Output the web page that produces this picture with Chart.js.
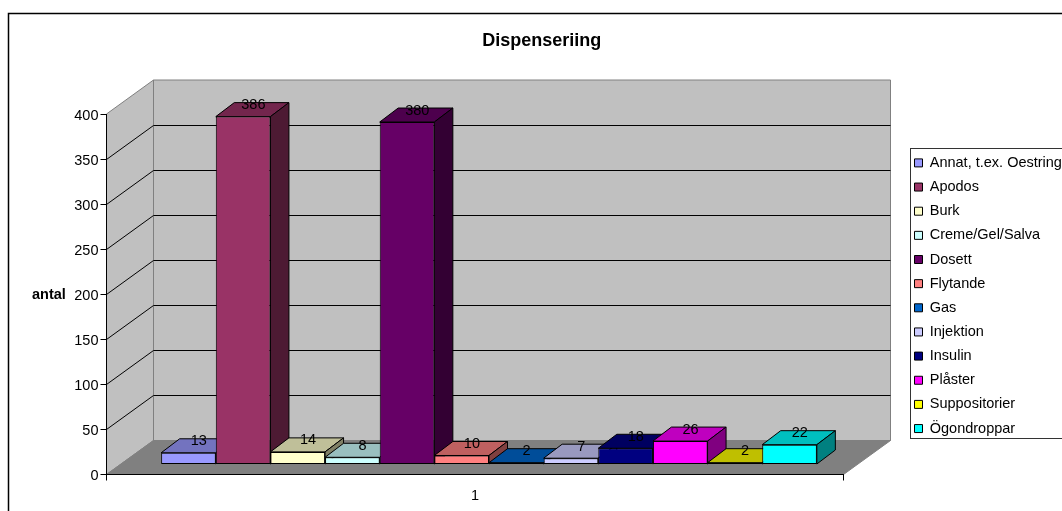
<!DOCTYPE html>
<html>
<head>
<meta charset="utf-8">
<title>Dispenseriing</title>
<style>
  html, body { margin: 0; padding: 0; background: #fff; overflow: hidden; }
  #wrap { width: 1062px; height: 511px; }
</style>
<script src="https://cdn.jsdelivr.net/npm/chart.js@4"></script>
</head>
<body>
<div id="wrap"><canvas id="dispChart"></canvas></div>
<script>
const categories = ['1'];
const seriesNames = ['Annat, t.ex. Oestring', 'Apodos', 'Burk', 'Creme/Gel/Salva', 'Dosett', 'Flytande',
    'Gas', 'Injektion', 'Insulin', 'Plåster', 'Suppositorier', 'Ögondroppar'];
const seriesValues = [13, 386, 14, 8, 380, 10, 2, 7, 18, 26, 2, 22];
const seriesColors = ['#9999ff', '#993366', '#ffffcc', '#ccffff', '#660066', '#ff8080',
    '#0066cc', '#ccccff', '#000080', '#ff00ff', '#ffff00', '#00ffff'];
const yTicks = [0, 50, 100, 150, 200, 250, 300, 350, 400];

const FONT = '"Liberation Sans", Arial, sans-serif';
const WALL = { dx: 47, dy: -34 };      // depth of the box behind the axes
const BAR_OFFSET = { dx: 14, dy: -10 }; // bars stand inside the floor
const BAR_DEPTH = { dx: 18.5, dy: -14 };

function shade(hex, f) {
    const n = parseInt(hex.slice(1), 16);
    const c = [n >> 16, (n >> 8) & 255, n & 255].map(v => Math.round(v * f));
    return `rgb(${c[0]},${c[1]},${c[2]})`;
}

function poly(ctx, pts, fill, stroke) {
    ctx.beginPath();
    pts.forEach((p, i) => i ? ctx.lineTo(p[0], p[1]) : ctx.moveTo(p[0], p[1]));
    ctx.closePath();
    if (fill) { ctx.fillStyle = fill; ctx.fill(); }
    if (stroke) { ctx.strokeStyle = stroke; ctx.lineWidth = 1; ctx.stroke(); }
}

// ── Frame, legend box, walls and floor ────────────────────────
const box3d = {
    id: 'box3d',
    afterLayout(chart) {
        // legend floats over the page, right of the plot
        const lg = chart.legend;
        lg.left = 904.85;
        lg.top = 146;
        lg.right = 1062;
        lg.bottom = 511;
        // title is centred across the whole frame, not just the plot
        chart.titleBlock.left = 21.4;
        chart.titleBlock.right = 1062;
    },
    beforeDraw(chart) {
        const ctx = chart.ctx;
        const { left, right, top, bottom } = chart.chartArea;
        const { dx, dy } = WALL;
        const y = chart.scales.y;

        ctx.save();
        ctx.fillStyle = '#fff';
        ctx.fillRect(0, 0, chart.width, chart.height);
        ctx.strokeStyle = '#000';
        ctx.lineWidth = 1.5;
        ctx.strokeRect(8.5, 13.5, 1100, 600);

        // legend box
        ctx.lineWidth = 1;
        ctx.strokeStyle = '#333';
        ctx.strokeRect(910.5, 148.5, 200, 290);

        const grey = '#808080';
        poly(ctx, [[left + dx, top + dy], [right + dx, top + dy], [right + dx, bottom + dy], [left + dx, bottom + dy]], '#c0c0c0', grey);
        poly(ctx, [[left, top], [left + dx, top + dy], [left + dx, bottom + dy], [left, bottom]], '#c0c0c0', grey);
        poly(ctx, [[left, bottom], [right, bottom], [right + dx, bottom + dy], [left + dx, bottom + dy]], grey, grey);

        // gridlines run along the side wall and the back wall
        ctx.strokeStyle = '#000';
        ctx.beginPath();
        yTicks.slice(1, -1).forEach(v => {
            const py = Math.round(y.getPixelForValue(v)) + 0.5;
            ctx.moveTo(left, py);
            ctx.lineTo(left + dx, py + dy);
            ctx.lineTo(right + dx, py + dy);
        });
        ctx.stroke();

        // horizontal axis title
        ctx.fillStyle = '#000';
        ctx.font = 'bold 14.5px ' + FONT;
        ctx.textBaseline = 'middle';
        ctx.textAlign = 'left';
        ctx.fillText('antal', 32, 295);
        ctx.restore();
    },
    // bars are painted left to right so nearer faces overlap correctly
    beforeDatasetsDraw(chart) {
        const ctx = chart.ctx;
        const { dx, dy } = BAR_DEPTH;
        ctx.save();
        ctx.translate(BAR_OFFSET.dx, BAR_OFFSET.dy);
        ctx.lineWidth = 1;

        const rects = chart.data.datasets.map((ds, i) => {
            const bar = chart.getDatasetMeta(i).data[0];
            const l = bar.x - bar.width / 2, r = bar.x + bar.width / 2;
            const color = ds.backgroundColor;
            poly(ctx, [[l, bar.y], [l + dx, bar.y + dy], [r + dx, bar.y + dy], [r, bar.y]], shade(color, 0.75), '#000');
            poly(ctx, [[r, bar.y], [r + dx, bar.y + dy], [r + dx, bar.base + dy], [r, bar.base]], shade(color, 0.5), '#000');
            bar.draw(ctx);
            return { l, r, y: bar.y };
        });

        // value labels sit on top of every bar face
        ctx.fillStyle = '#000';
        ctx.font = '14.5px ' + FONT;
        ctx.textAlign = 'center';
        ctx.textBaseline = 'middle';
        rects.forEach((b, i) => {
            ctx.fillText(String(seriesValues[i]), (b.l + b.r + dx) / 2 + 1, b.y + dy + 2.5);
        });
        ctx.restore();
        return false;
    }
};

const datasets = seriesNames.map((name, i) => ({
    label: name,
    data: [seriesValues[i]],
    backgroundColor: seriesColors[i],
    borderColor: '#000',
    borderWidth: 1,
    borderSkipped: false
}));

const dispChart = new Chart(document.getElementById('dispChart'), {
    type: 'bar',
    data: { labels: categories, datasets },
    plugins: [box3d],
    options: {
        responsive: true,
        maintainAspectRatio: false,
        animation: false,
        categoryPercentage: 0.8897,
        barPercentage: 1,
        layout: { padding: { left: 8, right: 218.5, top: 0, bottom: 0 } },
        plugins: {
            tooltip: { enabled: false },
            title: {
                display: true,
                text: 'Dispenseriing',
                color: '#000',
                font: { family: FONT, size: 18, weight: 'bold' },
                padding: { top: 30, bottom: 62.4 }
            },
            legend: {
                position: 'chartArea',
                align: 'start',
                labels: {
                    color: '#000',
                    font: { family: FONT, size: 14.5 },
                    boxWidth: 8,
                    boxHeight: 8,
                    padding: 9.65
                }
            }
        },
        scales: {
            x: {
                afterFit: s => { s.height = 36.5; },
                grid: { drawOnChartArea: false, tickLength: 6, tickColor: '#000', offset: true },
                border: { color: '#000' },
                ticks: { color: '#000', font: { family: FONT, size: 14.5 }, padding: 7 }
            },
            y: {
                min: 0,
                max: 400,
                afterFit: s => { s.width = 98.5; },
                afterBuildTicks: s => { s.ticks = yTicks.map(v => ({ value: v })); },
                grid: { drawOnChartArea: false, tickLength: 6, tickColor: '#000' },
                border: { color: '#000' },
                ticks: { color: '#000', font: { family: FONT, size: 14.5 }, padding: 2, labelOffset: 1.5 }
            }
        }
    }
});
</script>
</body>
</html>
